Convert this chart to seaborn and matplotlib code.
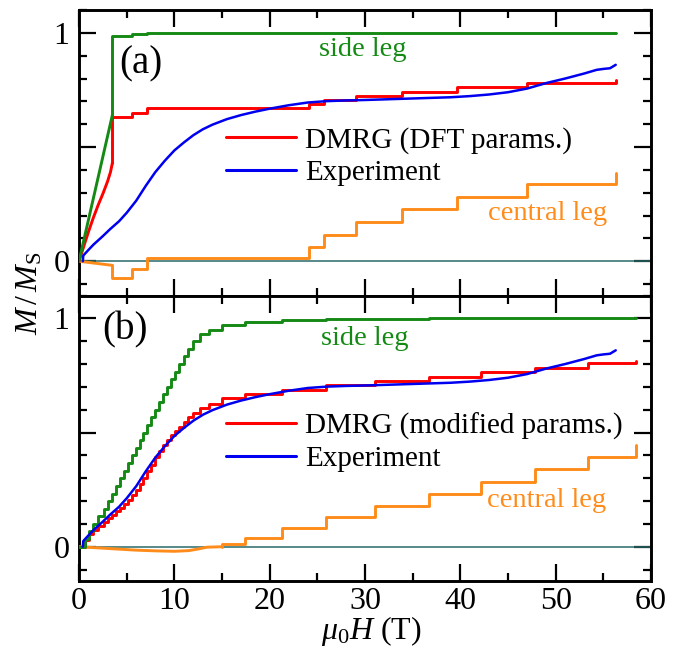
import matplotlib
matplotlib.use("Agg")
import matplotlib.pyplot as plt
import numpy as np
import pandas as pd
import seaborn as sns
from matplotlib.ticker import MultipleLocator, FixedLocator, FuncFormatter

# ---------------- data (mu0 H in T, M/Ms) ----------------
# Experiment (same measurement in both panels)
exp_H = [0.4, 0.45, 1.0, 1.5, 2.5, 3.25, 4.2, 5.0, 6.0, 7.0, 8.0, 9.0, 10.0, 11.0,
         12.0, 13.0, 14.0, 15.5, 17.0, 18.5, 20.0, 22.0, 24.0, 26.0, 28.0, 30.0,
         33.0, 36.0, 39.0, 41.0, 43.0, 45.0, 47.0, 49.0, 51.0, 53.0, 54.3, 55.0,
         55.7, 56.3]
exp_M = [0.0, 0.025, 0.05, 0.072, 0.11, 0.14, 0.175, 0.212, 0.265, 0.33, 0.39,
         0.44, 0.485, 0.52, 0.552, 0.578, 0.598, 0.622, 0.64, 0.655, 0.668, 0.683,
         0.695, 0.701, 0.704, 0.706, 0.71, 0.714, 0.718, 0.723, 0.73, 0.74, 0.756,
         0.78, 0.80, 0.822, 0.838, 0.842, 0.845, 0.86]

# Panel (a): DMRG with DFT parameters
a_rise_H = [0, 0.5, 1.0, 1.5, 2.0, 2.5, 3.0, 3.3, 3.5]
a_total_rise_M = [0, 0.065, 0.13, 0.19, 0.245, 0.295, 0.35, 0.39, 0.43]
a_step_H = [3.5, 3.5, 5.6, 7.15, 24.1, 25.7, 29.1, 33.9, 39.7, 47.0, 56.3]
a_total_step_M = [0.43, 0.633, 0.65, 0.67, 0.687, 0.706, 0.724, 0.743, 0.762, 0.781, 0.794]
a_central_rise_H = [0, 3.5]
a_central_rise_M = [0, -0.018]
a_central_step_M = [-0.018, -0.073, -0.032, 0.015, 0.063, 0.117, 0.172, 0.227, 0.282, 0.336, 0.387]
a_side_rise_H = [0, 3.5]
a_side_rise_M = [0, 0.64]
a_side_step_H = [3.5, 3.5, 5.6, 7.15, 56.3]
a_side_step_M = [0.64, 0.987, 0.994, 0.998, 1.0]

# Panel (b): DMRG with modified parameters
b_step_H = [0, 0.6, 1.1, 1.5, 2.0, 2.6, 3.05, 3.5, 3.9, 4.3, 4.75, 5.15, 5.55, 5.95,
            6.35, 6.75, 7.15, 7.55, 8.0, 8.4, 8.8, 9.25, 9.65, 10.05, 10.5, 11.0,
            11.45, 11.95, 12.7, 13.6, 15.0, 17.4, 21.3, 25.9, 31.1, 36.7, 58.4]
b_side_M = [0, 0.033, 0.067, 0.1, 0.133, 0.167, 0.2, 0.233, 0.267, 0.3, 0.333, 0.367,
            0.4, 0.433, 0.467, 0.5, 0.533, 0.567, 0.6, 0.633, 0.667, 0.7, 0.733,
            0.767, 0.8, 0.833, 0.867, 0.9, 0.933, 0.95, 0.972, 0.984, 0.991, 0.995,
            0.998, 1.0, 1.0]
b_total_H = [0, 0.6, 1.1, 1.5, 2.0, 2.6, 3.05, 3.5, 3.9, 4.3, 4.75, 5.15, 5.55, 5.95,
             6.35, 6.75, 7.15, 7.55, 8.0, 8.4, 8.8, 9.25, 9.65, 10.05, 10.5, 11.0,
             11.45, 11.95, 12.7, 13.6, 15.0, 17.4, 21.3, 25.9, 31.1, 36.7, 42.2,
             47.8, 53.4, 58.4]
b_total_M = [0, 0.03, 0.055, 0.075, 0.092, 0.11, 0.125, 0.14, 0.155, 0.17, 0.188,
             0.205, 0.225, 0.247, 0.275, 0.30, 0.33, 0.36, 0.395, 0.42, 0.445, 0.468,
             0.488, 0.505, 0.525, 0.548, 0.567, 0.585, 0.607, 0.627, 0.65, 0.667,
             0.687, 0.706, 0.725, 0.745, 0.764, 0.783, 0.804, 0.815]
b_central_dip_H = [0, 2, 4, 6, 8, 10, 11.5, 12.5, 13.4, 15.0]
b_central_dip_M = [0, -0.005, -0.01, -0.015, -0.018, -0.02, -0.017, -0.01, -0.002, 0.0]
b_central_step_H = [15.0, 15.0, 17.4, 21.3, 25.9, 31.1, 36.7, 42.2, 47.8, 53.4, 58.4]
b_central_step_M = [0.0, 0.011, 0.037, 0.081, 0.130, 0.179, 0.230, 0.285, 0.340, 0.394, 0.447]

labels_a = ["DMRG (DFT params.)", "Experiment"]
labels_b = ["DMRG (modified params.)", "Experiment"]

# ---------------- style ----------------
sns.set_theme(style="ticks")
plt.rcParams['font.family'] = ['Liberation Serif', 'DejaVu Serif']
plt.rcParams['mathtext.fontset'] = 'custom'
plt.rcParams['mathtext.rm'] = 'Liberation Serif'
plt.rcParams['mathtext.it'] = 'Liberation Serif:italic'
plt.rcParams['mathtext.bf'] = 'Liberation Serif:bold'
plt.rcParams['axes.edgecolor'] = 'black'
plt.rcParams['xtick.color'] = 'black'
plt.rcParams['ytick.color'] = 'black'
plt.rcParams['xtick.labelcolor'] = 'black'
plt.rcParams['ytick.labelcolor'] = 'black'
plt.rcParams['text.color'] = 'black'
plt.rcParams['axes.labelcolor'] = 'black'
plt.rcParams['legend.labelcolor'] = 'black'

GREEN = '#148a14'
RED = '#ff0000'
ORANGE = '#ff8c1a'
BLUE = '#0000f0'
TEAL = '#2a6a6a'

fig, (axa, axb) = plt.subplots(2, 1, figsize=(6.82, 6.47), dpi=100, sharex=True)
fig.subplots_adjust(left=79/682, right=651/682, top=1-10/647, bottom=1-581/647, hspace=0)


def draw(ax, H, M, color, lw=2.1, steps=False, z=3):
    df = pd.DataFrame({'H': H, 'M': M})
    kw = dict(drawstyle='steps-post') if steps else {}
    sns.lineplot(data=df, x='H', y='M', ax=ax, color=color, linewidth=lw,
                 estimator=None, sort=False, legend=False, zorder=z, **kw)
    return ax.lines[-1]


# panel (a)
axa.axhline(0, color=TEAL, lw=1.1, zorder=1)
draw(axa, a_central_rise_H, a_central_rise_M, ORANGE)
draw(axa, a_step_H, a_central_step_M, ORANGE, steps=True)
draw(axa, a_rise_H, a_total_rise_M, RED)
red_a = draw(axa, a_step_H, a_total_step_M, RED, steps=True)
draw(axa, a_side_rise_H, a_side_rise_M, GREEN)
draw(axa, a_side_step_H, a_side_step_M, GREEN, steps=True)
blue_a = draw(axa, exp_H, exp_M, BLUE, lw=1.8, z=4)

# panel (b)
axb.axhline(0, color=TEAL, lw=1.1, zorder=1)
draw(axb, b_central_dip_H, b_central_dip_M, ORANGE)
draw(axb, b_central_step_H, b_central_step_M, ORANGE, steps=True)
red_b = draw(axb, b_total_H, b_total_M, RED, steps=True)
draw(axb, b_step_H, b_side_M, GREEN, steps=True)
blue_b = draw(axb, exp_H, exp_M, BLUE, lw=1.8, z=4)

for ax, (r, b), labs, tag, tagpos, sidepos, cenpos in [
        (axa, (red_a, blue_a), labels_a, '(a)', (0.109, 0.81), (0.4965, 0.86), (0.819, 0.288)),
        (axb, (red_b, blue_b), labels_b, '(b)', (0.080, 0.878), (0.499, 0.85), (0.818, 0.283))]:
    ax.set_xlim(0, 60)
    ax.set_ylim(-0.15, 1.1)
    ax.set_xlabel('')
    ax.set_ylabel('')
    ax.xaxis.set_major_locator(MultipleLocator(10))
    ax.xaxis.set_minor_locator(MultipleLocator(5))
    ax.yaxis.set_major_locator(FixedLocator([0, 0.5, 1]))
    ax.yaxis.set_minor_locator(MultipleLocator(0.1))
    ax.yaxis.set_major_formatter(FuncFormatter(
        lambda v, p: '0' if abs(v) < 1e-9 else ('1' if abs(v - 1) < 1e-9 else '')))
    ax.tick_params(which='both', direction='in', top=True, right=True, width=1.6,
                   labelsize=23, colors='black')
    ax.tick_params(which='major', length=12)
    ax.tick_params(which='minor', length=6)
    ax.tick_params(axis='y', pad=7)
    ax.tick_params(axis='x', pad=4)
    for s in ax.spines.values():
        s.set_linewidth(2.1)
        s.set_color('black')
        s.set_visible(True)
    leg = ax.legend([r, b], labs, loc='upper left', bbox_to_anchor=(0.257, 0.59),
                    frameon=False, fontsize=21, handlelength=2.4, handletextpad=0.3,
                    labelspacing=0.2, borderpad=0, borderaxespad=0)
    for ln in leg.get_lines():
        ln.set_linewidth(2.2)
    for t in leg.get_texts():
        t.set_color('black')
    ax.text(*tagpos, tag, transform=ax.transAxes, fontsize=28, ha='center', va='center',
            color='black')
    ax.text(*sidepos, 'side leg', transform=ax.transAxes, fontsize=20.5, color=GREEN,
            ha='center', va='center')
    ax.text(*cenpos, 'central leg', transform=ax.transAxes, fontsize=20.5, color=ORANGE,
            ha='center', va='center')

axa.tick_params(labelbottom=False)

fig.text(30/682, 1-293/647, r'$M\,/\,M_\mathrm{S}$', rotation=90, fontsize=23,
         ha='center', va='center', color='black')
fig.text(371/682, 1-631/647, r'$\mu_0H$ (T)', fontsize=23, ha='center', va='center',
         color='black')

fig.savefig('out.png', dpi=100)
